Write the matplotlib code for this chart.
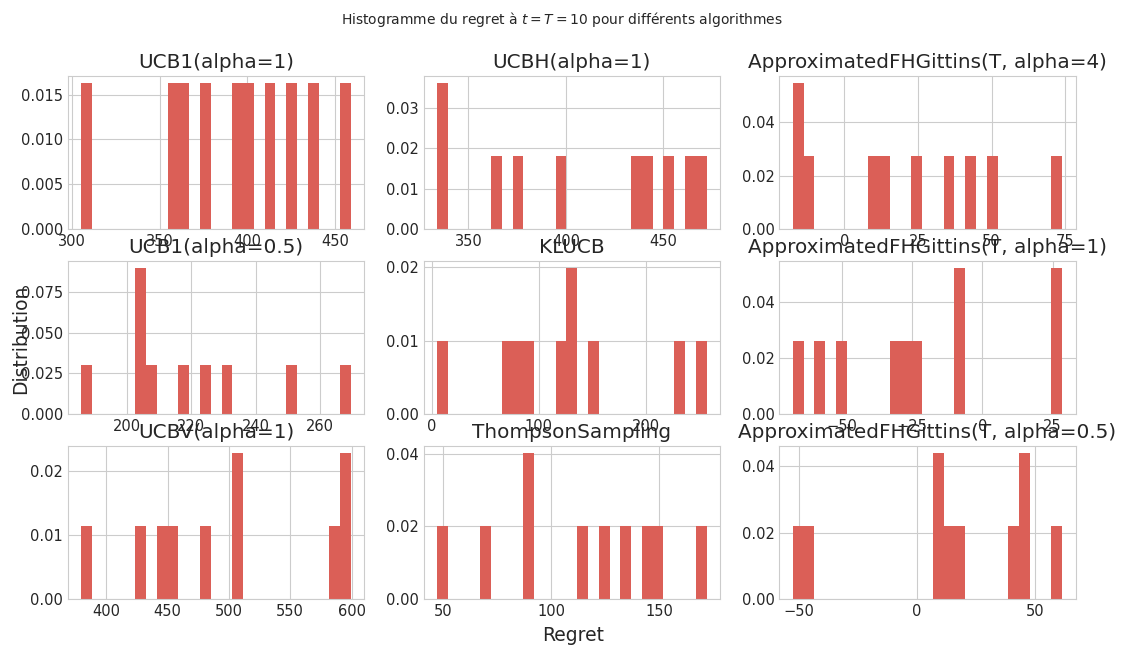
import matplotlib
matplotlib.use("Agg")
import matplotlib.pyplot as plt
from matplotlib.ticker import MaxNLocator
import seaborn as sns

sns.set_style("whitegrid")
plt.rcParams["font.family"] = ["DejaVu Sans"]

# regret samples (10 runs each)
titles = [
    "UCB1(alpha=1)", "UCBH(alpha=1)", "ApproximatedFHGittins(T, alpha=4)",
    "UCB1(alpha=0.5)", "KLUCB", "ApproximatedFHGittins(T, alpha=1)",
    "UCBV(alpha=1)", "ThompsonSampling", "ApproximatedFHGittins(T, alpha=0.5)",
]
regret_ucb1_a1 = [305.4, 357.6, 363.8, 376.0, 394.5, 400.6, 412.9, 425.2, 437.5, 459.0]
regret_ucbh_a1 = [333.9, 336.2, 364.3, 375.4, 397.5, 436.2, 441.7, 452.8, 463.9, 472.2]
regret_gittins_a4 = [-17.5, -15.9, -12.0, 10.0, 13.6, 24.6, 35.6, 42.9, 50.2, 74.0]
regret_ucb1_a05 = [186.0, 203.6, 204.4, 205.2, 207.7, 217.7, 224.4, 231.1, 251.1, 269.5]
regret_klucb = [5.0, 70.5, 80.6, 90.7, 120.9, 130.0, 132.0, 151.2, 231.8, 256.9]
regret_gittins_a1 = [-67.4, -57.8, -50.2, -31.0, -27.2, -23.4, -8.6, -7.4, 27.0, 28.4]
regret_ucbv_a1 = [379.8, 428.1, 445.7, 454.5, 480.9, 506.0, 508.4, 585.9, 595.0, 599.5]
regret_thompson = [47.1, 69.6, 89.0, 90.0, 114.5, 124.5, 134.4, 144.4, 149.4, 171.9]
regret_gittins_a05 = [-52.5, -45.7, 9.0, 10.4, 14.3, 18.9, 41.6, 45.0, 46.9, 61.3]

samples = [
    regret_ucb1_a1, regret_ucbh_a1, regret_gittins_a4,
    regret_ucb1_a05, regret_klucb, regret_gittins_a1,
    regret_ucbv_a1, regret_thompson, regret_gittins_a05,
]

color = sns.color_palette("hls", 8)[0]
steps = [1, 2, 2.5, 5, 10]

fig, axes = plt.subplots(3, 3, figsize=(11.24, 6.47), dpi=100)
fig.subplots_adjust(left=0.0605, right=0.957, top=0.8825, bottom=0.0742,
                    wspace=0.2, hspace=0.21)

for ax, title, data in zip(axes.flat, titles, samples):
    ax.hist(data, bins=25, density=True, color=color, linewidth=0)
    ax.set_title(title, fontsize=14.4, color="0.15")
    ax.tick_params(labelsize=10.5, colors="0.15", length=0)
    ax.xaxis.set_major_locator(MaxNLocator(nbins=5, steps=steps))
    ax.yaxis.set_major_locator(MaxNLocator(nbins=4, steps=steps))

fig.suptitle("Histogramme du regret à $t = T = 10$ pour différents algorithmes",
             fontsize=10, y=0.985, color="0.15")
fig.text(0.51, 0.003, "Regret", ha="center", va="bottom", fontsize=13.5, color="0.15")
fig.text(0.018, 0.475, "Distribution", ha="center", va="center", rotation=90,
         fontsize=13.5, color="0.15")

fig.savefig("out.png", dpi=100)
